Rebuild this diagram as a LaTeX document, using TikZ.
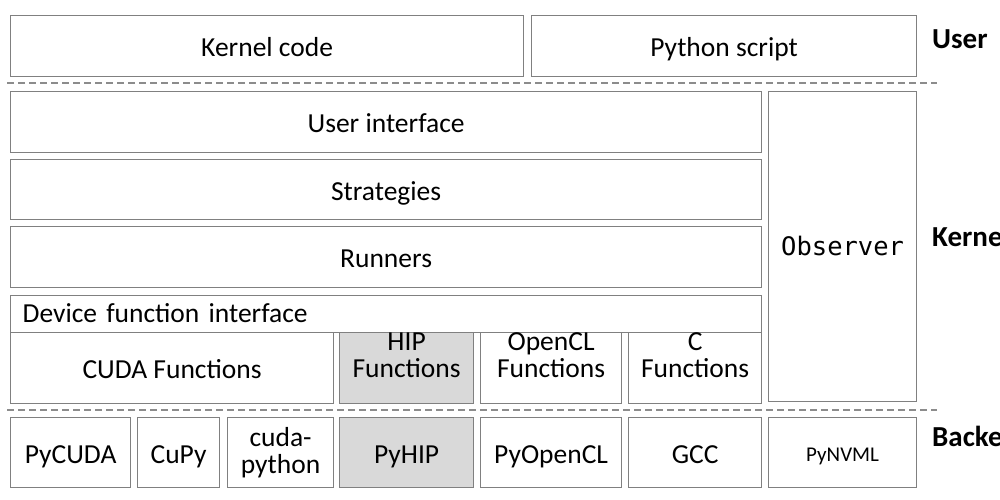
\documentclass[tikz,border=0pt]{standalone}
\usepackage{fontspec}
\setmainfont{Carlito}
\newfontfamily\obsfont{DejaVu Sans Mono}
\newcommand\twol[2]{\vtop{\baselineskip=26.7pt\lineskip=0pt\lineskiplimit=-20pt\halign{\hfil##\hfil\cr #1\cr #2\cr}}}
\begin{document}
\begin{tikzpicture}[x=1pt,y=-1pt,
  box/.style={draw=boxgray, line width=1.2pt, rectangle, inner sep=0pt, anchor=north west,
    font=\fontsize{27.5}{26.7}\selectfont, text height=26pt, text depth=5pt},
  twoline/.style={text height=18pt, text depth=53pt},
  twolineb/.style={text height=20pt, text depth=32pt},
  hip/.style={fill=hipgray},
  sep/.style={draw=sepgray, line width=1.3pt, dash pattern=on 7pt off 4pt},
  layer/.style={anchor=base west, inner sep=0pt, font=\fontsize{29}{30}\selectfont\bfseries}]
\definecolor{boxgray}{HTML}{808080}
\definecolor{sepgray}{HTML}{8C8C8C}
\definecolor{hipgray}{HTML}{D9D9D9}
\useasboundingbox (0,0) rectangle (1000,500);
\clip (0,0) rectangle (1000,500);
\fill[white] (0,0) rectangle (1000,500);
% User layer
\node[box, minimum width=513pt, minimum height=61pt] (kcode) at (10,15) {Kernel code};
\node[box, minimum width=385pt, minimum height=61pt] (pscript) at (531,15) {Python script};
% separators
\coordinate (s1a) at (7,83); \coordinate (s1b) at (937,83);
\coordinate (s2a) at (7,410); \coordinate (s2b) at (937,410);
\draw[sep] (s1a) -- (s1b);
\draw[sep] (s2a) -- (s2b);
% Kernel layer
\node[box, minimum width=751pt, minimum height=61pt] (ui) at (10,91) {User interface};
\node[box, minimum width=751pt, minimum height=60pt] (strat) at (10,159) {Strategies};
\node[box, minimum width=751pt, minimum height=61pt] (runners) at (10,226) {Runners};
\node[box, minimum width=751pt, minimum height=37pt, text width=727pt, align=left, text height=24pt, text depth=7pt] (dfi) at (10,295) {Device function interface};
\node[box, minimum width=323pt, minimum height=71pt] (cudaf) at (10,332) {CUDA Functions};
\node[box, hip, twoline, minimum width=134pt, minimum height=71pt] (hipf) at (339,332) {\twol{HIP}{Functions}};
\node[box, twoline, minimum width=141pt, minimum height=71pt] (openclf) at (480,332) {\twol{OpenCL}{Functions}};
\node[box, twoline, minimum width=133pt, minimum height=71pt] (cf) at (628,332) {\twol{C}{Functions}};
\node[box, minimum width=148pt, minimum height=310pt, font=\obsfont\fontsize{25.5}{26}\selectfont, text height=22pt, text depth=4pt] (obs) at (768,91) {Observer};
% Backend layer
\node[box, minimum width=120pt, minimum height=70pt] (pycuda) at (10,417) {PyCUDA};
\node[box, minimum width=82pt, minimum height=70pt] (cupy) at (137,417) {CuPy};
\node[box, twolineb, minimum width=106pt, minimum height=70pt] (cudapy) at (227,417) {\twol{cuda-}{python}};
\node[box, hip, minimum width=134pt, minimum height=70pt] (pyhip) at (339,417) {PyHIP};
\node[box, minimum width=141pt, minimum height=70pt] (pyopencl) at (480,417) {PyOpenCL};
\node[box, minimum width=133pt, minimum height=70pt] (gcc) at (628,417) {GCC};
\node[box, minimum width=148pt, minimum height=70pt, font=\fontsize{21}{22}\selectfont, text height=20pt, text depth=3pt] (pynvml) at (768,417) {PyNVML};
% Layer labels
\node[layer] (luser) at (932,49) {User};
\node[layer] (lkernel) at (932,246) {Kernel};
\node[layer] (lbackend) at (932,446) {Backend};
\end{tikzpicture}
\end{document}
